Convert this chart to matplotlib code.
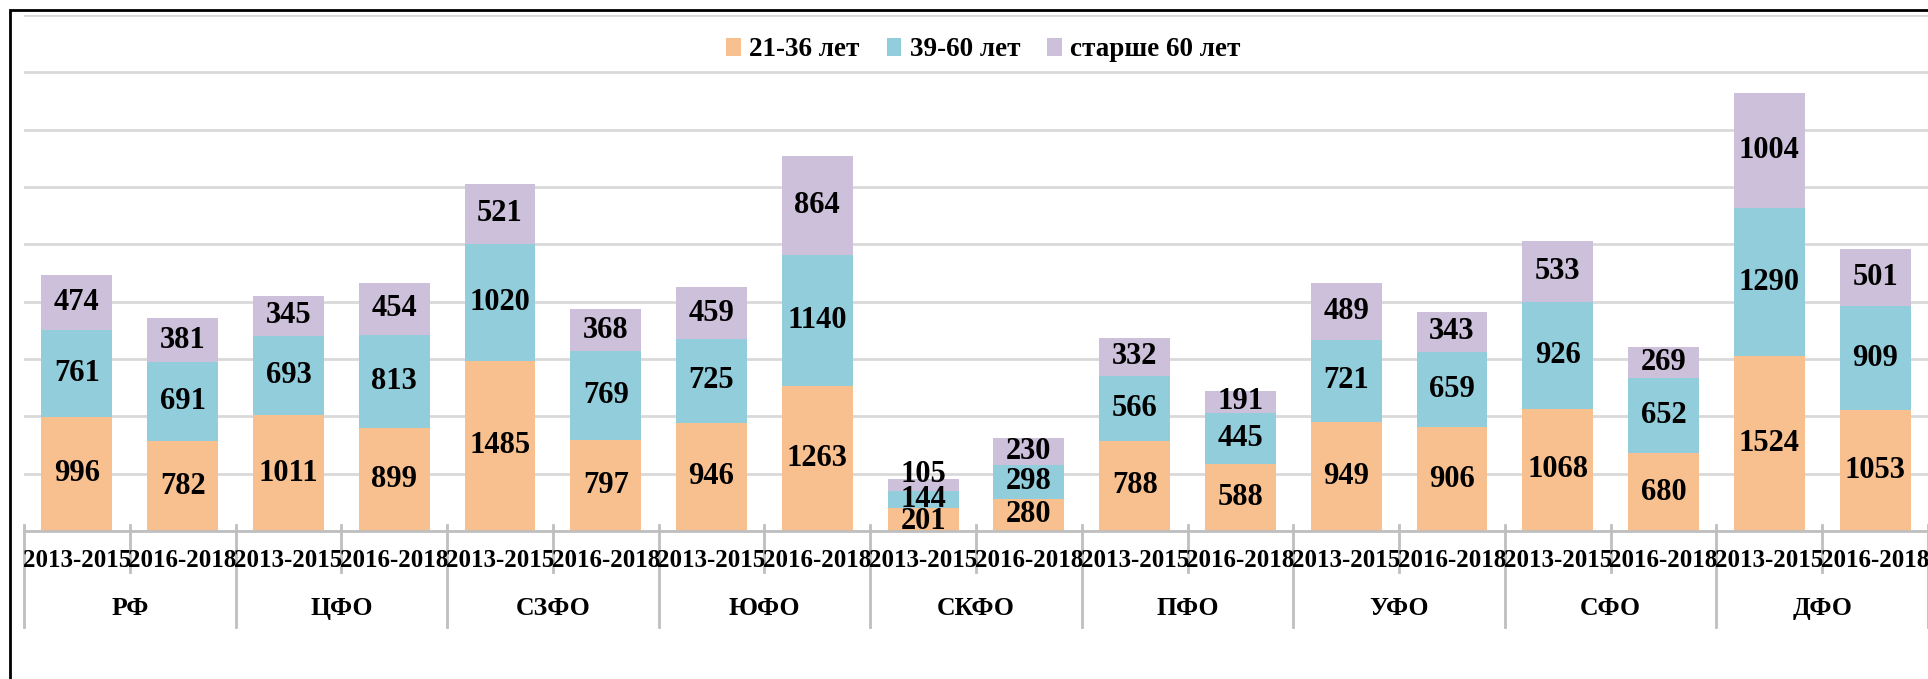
import matplotlib
matplotlib.use("Agg")
import matplotlib.pyplot as plt
from matplotlib.lines import Line2D
from matplotlib.patches import Patch, Rectangle
import numpy as np

plt.rcParams['font.family'] = ['Liberation Serif', 'DejaVu Serif']
plt.rcParams['font.weight'] = 'bold'

regions = ['РФ', 'ЦФО', 'СЗФО', 'ЮФО', 'СКФО', 'ПФО', 'УФО', 'СФО', 'ДФО']
periods = ['2013-2015', '2016-2018']
series_names = ['21-36 лет', '39-60 лет', 'старше 60 лет']

young = [996, 782, 1011, 899, 1485, 797, 946, 1263, 201, 280, 788, 588, 949, 906, 1068, 680, 1524, 1053]
middle = [761, 691, 693, 813, 1020, 769, 725, 1140, 144, 298, 566, 445, 721, 659, 926, 652, 1290, 909]
older = [474, 381, 345, 454, 521, 368, 459, 864, 105, 230, 332, 191, 489, 343, 533, 269, 1004, 501]

colors = ['#F9C08F', '#92CDDC', '#CCC0DA']

fig = plt.figure(figsize=(19.28, 6.79), dpi=100)
ax = fig.add_axes([24 / 1928, 1 - 531 / 679, 1 - 24 / 1928, (531 - 15) / 679])

x = np.arange(len(young))
bottom = np.zeros(len(young))
total = np.array(young) + np.array(middle) + np.array(older)
for si, (vals, col) in enumerate(zip([young, middle, older], colors)):
    vals = np.array(vals)
    ax.bar(x, vals, 0.67, bottom=bottom, color=col, zorder=3)
    for xi, b, v in zip(x, bottom, vals):
        y = b + v / 2
        # very short stack (СКФО): labels spread apart a bit, as in the source
        if total[xi] < 500:
            if si == 2:
                y = b + v + 40
            elif si == 0:
                y = b + v * 0.4
        ax.text(xi, y, str(v), ha='center', va='center',
                fontsize=22, fontweight='bold', zorder=4)
    bottom += vals

ax.set_xlim(-0.5, len(young) - 0.5)
ax.set_ylim(0, 4500)
ax.set_yticks(np.arange(0, 4501, 500))
ax.yaxis.grid(True, color='#D9D9D9', linewidth=2, zorder=0)
ax.tick_params(left=False, labelleft=False, bottom=False, labelbottom=False)
for s in ['left', 'right', 'top']:
    ax.spines[s].set_visible(False)
ax.spines['bottom'].set_color('#BFBFBF')
ax.spines['bottom'].set_linewidth(2)
ax.spines['bottom'].set_zorder(5)

# two-level category axis
tr = ax.get_xaxis_transform()
for i in range(len(young)):
    ax.text(i, -0.058, periods[i % 2], transform=tr, ha='center', va='center',
            fontsize=18, fontweight='bold')
for g, name in enumerate(regions):
    ax.text(2 * g + 0.5, -0.15, name, transform=tr, ha='center', va='center',
            fontsize=18.5, fontweight='bold')
for k in range(len(young) + 1):
    xb = k - 0.5
    y_end = -0.186 if k % 2 == 0 else -0.079
    ax.add_line(Line2D([xb, xb], [0.012, y_end], transform=tr, color='#BFBFBF',
                       linewidth=2, clip_on=False))

handles = [Patch(facecolor=c, edgecolor='none') for c in colors]
fig.legend(handles, series_names, loc='center', bbox_to_anchor=(0.51, 1 - 50 / 679),
           ncol=3, frameon=False, handlelength=0.55, handleheight=0.6,
           handletextpad=0.3, columnspacing=1.0, prop={'weight': 'bold', 'size': 19.5})

top = 1 - 10 / 679
fig.patches.append(Rectangle((10 / 1928, -0.2), 1.2, top + 0.2,
                             transform=fig.transFigure, fill=False,
                             edgecolor='black', linewidth=2))

fig.savefig('out.png', dpi=100)
